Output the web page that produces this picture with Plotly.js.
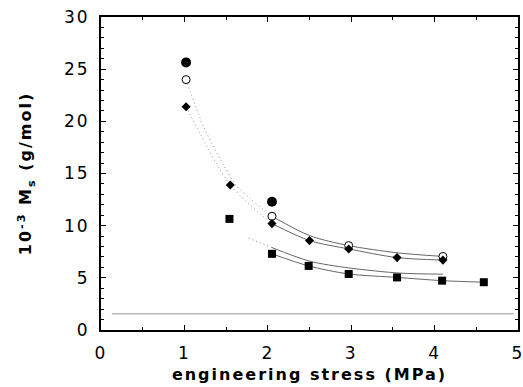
<!DOCTYPE html>
<html>
<head>
<meta charset="utf-8">
<script src="https://cdn.plot.ly/plotly-3.0.1.min.js"></script>
<style>
  html, body { margin: 0; padding: 0; background: #fff; }
  #chart { width: 523px; height: 387px; }
  .xtitle, .ytitle { letter-spacing: 2px; }
  .xtick text, .ytick text { letter-spacing: 2px; }
</style>
</head>
<body>
<div id="chart"></div>
<script>
// Filled circles
const fcX = [1.02, 2.05];
const fcY = [25.65, 12.3];
// Open circles
const ocX = [1.02, 2.05, 2.97, 4.1];
const ocY = [24.0, 10.9, 8.09, 7.05];
// Diamonds
const dmX = [1.02, 1.55, 2.05, 2.5, 2.97, 3.55, 4.1];
const dmY = [21.4, 13.9, 10.2, 8.57, 7.77, 6.94, 6.7];
// Squares
const sqX = [1.54, 2.05, 2.49, 2.97, 3.55, 4.09, 4.59];
const sqY = [10.65, 7.3, 6.14, 5.37, 5.04, 4.73, 4.58];
// Fit curve through open circles
const ocFitX = [1.02, 1.23, 1.47, 1.63, 1.79, 1.95, 2.05, 2.5, 2.97, 3.55, 4.1];
const ocFitY = [24.0, 19.5, 15.8, 13.75, 12.6, 11.5, 10.9, 9.05, 8.09, 7.4, 7.05];
// Upper fit curve next to squares
const upFitX = [1.77, 2.05, 2.5, 2.97, 3.59, 4.1];
const upFitY = [8.8, 7.9, 6.6, 5.95, 5.45, 5.35];
// Horizontal reference line
const refX = [0.13, 4.95];
const refY = [1.55, 1.55];

const xTicks = [0, 1, 2, 3, 4, 5];
const yTicks = [0, 5, 10, 15, 20, 25, 30];

const SPLIT = 2.05;
function seg(xs, ys, lo) {
  const ox = [], oy = [];
  xs.forEach((x, i) => {
    if (lo ? x <= SPLIT : x >= SPLIT) { ox.push(x); oy.push(ys[i]); }
  });
  return { x: ox, y: oy };
}
function lineTrace(xs, ys, dotted) {
  return {
    x: xs, y: ys, type: 'scatter', mode: 'lines', hoverinfo: 'skip',
    line: { color: dotted ? '#8a8a8a' : '#555', width: dotted ? 1 : 0.9, dash: dotted ? '1px,3px' : 'solid', shape: 'spline', smoothing: 0.8 }
  };
}

const traces = [];
traces.push({ x: refX, y: refY, type: 'scatter', mode: 'lines', line: { color: '#999', width: 1 } });
[[ocFitX, ocFitY], [dmX, dmY], [upFitX, upFitY]].forEach(([xs, ys]) => {
  const a = seg(xs, ys, true), b = seg(xs, ys, false);
  traces.push(lineTrace(a.x, a.y, true));
  traces.push(lineTrace(b.x, b.y, false));
});
const sqLine = seg(sqX, sqY, false);
traces.push(lineTrace(sqLine.x, sqLine.y, false));

traces.push({ x: fcX, y: fcY, type: 'scatter', mode: 'markers', marker: { symbol: 'circle', size: 10, color: '#000' } });
traces.push({ x: ocX, y: ocY, type: 'scatter', mode: 'markers', marker: { symbol: 'circle', size: 8, color: '#fff', line: { color: '#000', width: 1 } } });
traces.push({ x: dmX, y: dmY, type: 'scatter', mode: 'markers', marker: { symbol: 'diamond', size: 7, color: '#000' } });
traces.push({ x: sqX, y: sqY, type: 'scatter', mode: 'markers', marker: { symbol: 'square', size: 8, color: '#000' } });

const tickFont = { family: 'DejaVu Sans, sans-serif', size: 17, color: '#000' };
const titleFont = { family: 'DejaVu Sans, sans-serif', size: 16, color: '#000', weight: 'bold' };

const layout = {
  width: 523, height: 387,
  margin: { l: 101, r: 5, t: 17, b: 57 },
  paper_bgcolor: '#fff', plot_bgcolor: '#fff',
  showlegend: false,
  xaxis: {
    range: [0, 5], tickvals: xTicks, ticktext: xTicks.map(String),
    showgrid: false, zeroline: false,
    showline: true, linecolor: '#000', linewidth: 2, mirror: 'ticks',
    ticks: 'inside', ticklen: 5, tickwidth: 1, tickcolor: '#000',
    minor: { dtick: 0.5, ticks: 'inside', ticklen: 3, tickcolor: '#000', showgrid: false },
    tickfont: tickFont, ticklabelstandoff: 7, ticklabeloverflow: 'allow',
    title: { text: 'engineering stress (MPa)', font: titleFont, standoff: 6 }
  },
  yaxis: {
    range: [0, 30], tickvals: yTicks, ticktext: yTicks.map(String),
    showgrid: false, zeroline: false,
    showline: true, linecolor: '#000', linewidth: 2, mirror: 'ticks',
    ticks: 'inside', ticklen: 5, tickwidth: 1, tickcolor: '#000',
    minor: { dtick: 1, ticks: 'inside', ticklen: 3, tickcolor: '#000', showgrid: false },
    tickfont: tickFont, ticklabelstandoff: 6, ticklabeloverflow: 'allow',
    title: { text: '10<sup>-3</sup> M<sub>s</sub> (g/mol)', font: titleFont, standoff: 28 }
  }
};

Plotly.newPlot('chart', traces, layout, { staticPlot: true, displayModeBar: false });
</script>
</body>
</html>
